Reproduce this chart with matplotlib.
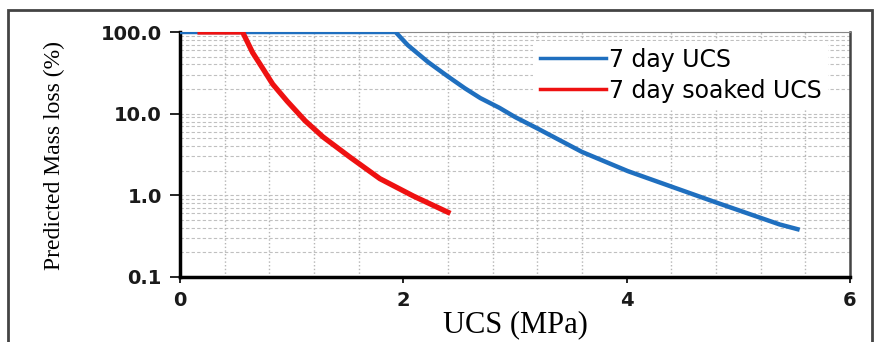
import matplotlib
matplotlib.use("Agg")
import matplotlib.pyplot as plt
from matplotlib.patches import Rectangle
from matplotlib.ticker import MultipleLocator, LogLocator, NullFormatter, FixedLocator

# 7 day UCS curve
ucs7_x = [0, 1.93, 2.04, 2.22, 2.40, 2.55, 2.69, 2.86, 3.00, 3.20, 3.60, 4.01, 4.40, 4.81, 5.37, 5.53]
ucs7_y = [100, 100, 69, 43, 28.5, 20.5, 15.5, 11.8, 9.1, 6.6, 3.4, 1.98, 1.28, 0.81, 0.44, 0.385]

# 7 day soaked UCS curve
soak_x = [0.18, 0.56, 0.65, 0.74, 0.83, 0.96, 1.12, 1.28, 1.52, 1.79, 2.09, 2.40]
soak_y = [100, 100, 56, 36, 23, 14.2, 8.2, 5.2, 2.95, 1.6, 0.98, 0.62]

x_ticks = [0, 2, 4, 6]
y_ticks = [0.1, 1.0, 10.0, 100.0]
y_ticklabels = ["0.1", "1.0", "10.0", "100.0"]

fig = plt.figure(figsize=(8.8, 3.42), dpi=100)
ax = fig.add_axes([180 / 880, 1 - 277 / 342, 670 / 880, 245 / 342])

#outer frame around the whole picture
fig.patches.append(Rectangle((8 / 880, -0.1), 864 / 880, 1.1 - 10 / 342,
                             transform=fig.transFigure, fill=False,
                             edgecolor="#444444", linewidth=2))

ax.plot(ucs7_x, ucs7_y, color="#1f6fbf", linewidth=3.2, label="7 day UCS",
        solid_joinstyle="round", zorder=3)
ax.plot(soak_x, soak_y, color="#ee1111", linewidth=3.8, label="7 day soaked UCS",
        solid_joinstyle="round", zorder=4)

ax.set_yscale("log")
ax.set_xlim(0, 6)
ax.set_ylim(0.1, 100)

ax.xaxis.set_major_locator(FixedLocator(x_ticks))
ax.xaxis.set_minor_locator(MultipleLocator(0.4))
ax.yaxis.set_major_locator(FixedLocator(y_ticks))
ax.set_yticklabels(y_ticklabels)
ax.yaxis.set_minor_locator(LogLocator(base=10, subs=range(2, 10)))
ax.yaxis.set_minor_formatter(NullFormatter())

#grid: dotted verticals, dashed horizontals
ax.grid(True, which="minor", axis="x", color="#b5b5b5", linestyle=":", linewidth=1.0)
ax.grid(True, which="minor", axis="y", color="#c0c0c0", linestyle="--", linewidth=0.8, dashes=(3, 2))
ax.grid(True, which="major", axis="y", color="#c0c0c0", linestyle="--", linewidth=0.8, dashes=(3, 2))

ax.tick_params(axis="both", which="minor", length=0)
ax.tick_params(axis="y", which="major", direction="out", length=7, width=1.2, pad=6)
ax.tick_params(axis="x", which="major", direction="out", length=4, width=1.2, pad=6)
for lab in ax.get_xticklabels() + ax.get_yticklabels():
    lab.set_fontsize(14)
    lab.set_fontweight("bold")
    lab.set_color("#1a1a1a")

ax.spines["left"].set_linewidth(2.5)
ax.spines["bottom"].set_linewidth(2.5)
ax.spines["top"].set_linewidth(0.8)
ax.spines["top"].set_color("#888888")
ax.spines["right"].set_linewidth(1.8)
ax.spines["right"].set_color("#444444")

ax.set_xlabel("UCS (MPa)", family="Liberation Serif", fontsize=22, labelpad=0)
ax.set_ylabel("Predicted Mass loss (%)", family="Liberation Serif", fontsize=17)
ax.yaxis.set_label_coords(-0.172, 0.494)

leg = ax.legend(loc="upper left", bbox_to_anchor=(0.527, 0.965), frameon=True,
                facecolor="white", edgecolor="none", framealpha=1,
                fontsize=17, handlelength=2.8, handletextpad=0.1,
                labelspacing=0.3, borderaxespad=0, borderpad=0.3)
for line in leg.get_lines():
    line.set_linewidth(2.5)
leg.set_zorder(5)

fig.savefig("out.png", dpi=100)
